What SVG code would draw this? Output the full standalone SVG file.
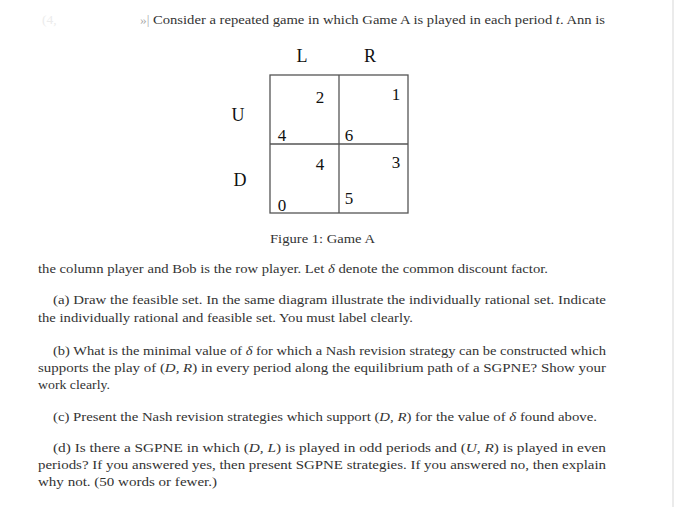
<svg xmlns="http://www.w3.org/2000/svg" width="687" height="507" viewBox="0 0 687 507">
<style>
text{font-family:"Liberation Serif","DejaVu Serif",serif;font-size:13.5px;fill:#333}
.big{font-size:18px;fill:#111}
.num{font-size:17px;fill:#111}
.g{stroke:#555;stroke-width:1.3;fill:none}
</style>
<rect width="687" height="507" fill="#fff"/>
<line x1="673" y1="0" x2="673" y2="507" stroke="#e4e4e4" stroke-width="1.5"/>
<text x="42" y="24" style="fill:#ececec">(4,</text>
<text x="140" y="24" style="fill:#aaa">»|</text>
<text x="153" y="24" textLength="452" lengthAdjust="spacingAndGlyphs">Consider a repeated game in which Game A is played in each period <tspan font-style="italic">t</tspan>. Ann is</text>
<g id="matrix">
<text class="big" x="302" y="62" text-anchor="middle">L</text>
<text class="big" x="370" y="62" text-anchor="middle">R</text>
<text class="big" x="238" y="121" text-anchor="middle">U</text>
<text class="big" x="240" y="186" text-anchor="middle">D</text>
<rect class="g" x="270" y="75" width="138" height="138"/>
<line class="g" x1="339" y1="75" x2="339" y2="213"/>
<line class="g" x1="270" y1="144" x2="408" y2="144"/>
<text class="num" x="320" y="103" text-anchor="middle">2</text>
<text class="num" x="396" y="100" text-anchor="middle">1</text>
<text class="num" x="282" y="141" text-anchor="middle">4</text>
<text class="num" x="349" y="141" text-anchor="middle">6</text>
<text class="num" x="320" y="170" text-anchor="middle">4</text>
<text class="num" x="396" y="168" text-anchor="middle">3</text>
<text class="num" x="282" y="211" text-anchor="middle">0</text>
<text class="num" x="349" y="204" text-anchor="middle">5</text>
</g>
<text x="270" y="243" textLength="105" lengthAdjust="spacingAndGlyphs">Figure 1: Game A</text>
<text x="38" y="273" textLength="510" lengthAdjust="spacingAndGlyphs">the column player and Bob is the row player. Let <tspan font-style="italic">δ</tspan> denote the common discount factor.</text>
<text x="53" y="304" textLength="553" lengthAdjust="spacingAndGlyphs">(a) Draw the feasible set. In the same diagram illustrate the individually rational set. Indicate</text>
<text x="38" y="322" textLength="375" lengthAdjust="spacingAndGlyphs">the individually rational and feasible set. You must label clearly.</text>
<text x="53" y="355" textLength="553" lengthAdjust="spacingAndGlyphs">(b) What is the minimal value of <tspan font-style="italic">δ</tspan> for which a Nash revision strategy can be constructed which</text>
<text x="38" y="372" textLength="568" lengthAdjust="spacingAndGlyphs">supports the play of (<tspan font-style="italic">D, R</tspan>) in every period along the equilibrium path of a SGPNE? Show your</text>
<text x="38" y="389" textLength="72" lengthAdjust="spacingAndGlyphs">work clearly.</text>
<text x="53" y="421" textLength="544" lengthAdjust="spacingAndGlyphs">(c) Present the Nash revision strategies which support (<tspan font-style="italic">D, R</tspan>) for the value of <tspan font-style="italic">δ</tspan> found above.</text>
<text x="53" y="452" textLength="553" lengthAdjust="spacingAndGlyphs">(d) Is there a SGPNE in which (<tspan font-style="italic">D, L</tspan>) is played in odd periods and (<tspan font-style="italic">U, R</tspan>) is played in even</text>
<text x="38" y="469" textLength="568" lengthAdjust="spacingAndGlyphs">periods? If you answered yes, then present SGPNE strategies. If you answered no, then explain</text>
<text x="38" y="486" textLength="179" lengthAdjust="spacingAndGlyphs">why not. (50 words or fewer.)</text>
</svg>
